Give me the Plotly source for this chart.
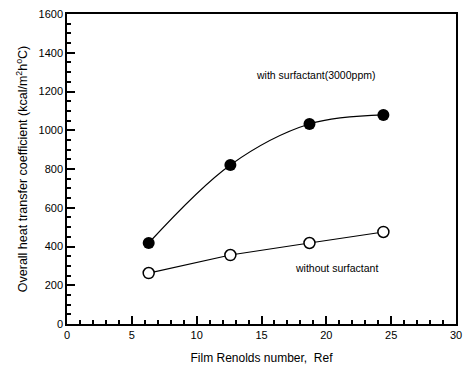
import plotly.graph_objects as go

re_with = [6.3, 12.6, 18.7, 24.4]
h_with = [418, 821, 1032, 1079]
re_without = [6.3, 12.6, 18.7, 24.4]
h_without = [263, 356, 418, 475]

fnt = "Liberation Sans, Arial, sans-serif"

fig = go.Figure()
fig.add_trace(go.Scatter(x=re_with, y=h_with, mode="lines+markers",
                         line=dict(color="black", width=1.2, shape="spline", smoothing=1.0),
                         marker=dict(symbol="circle", size=12, color="black"),
                         showlegend=False))
fig.add_trace(go.Scatter(x=re_without, y=h_without, mode="lines+markers",
                         line=dict(color="black", width=1.2),
                         marker=dict(symbol="circle", size=11, color="white",
                                     line=dict(color="black", width=1.5)),
                         showlegend=False))

fig.add_annotation(x=19.2, y=1285, text="with surfactant(3000ppm)", showarrow=False,
                   font=dict(family=fnt, size=10.5, color="black"))
fig.add_annotation(x=20.8, y=289, text="without surfactant", showarrow=False,
                   font=dict(family=fnt, size=10.5, color="black"))

axis_common = dict(showgrid=False, zeroline=False, showline=True, linecolor="black",
                   linewidth=1.5, mirror=True, ticks="inside", ticklen=8, tickwidth=2,
                   tickcolor="black", tickfont=dict(family=fnt, size=11, color="black"))

fig.update_xaxes(range=[0, 30], dtick=5, tick0=0,
                 minor=dict(dtick=1, ticks="inside", ticklen=4, tickwidth=1.5, tickcolor="black",
                            showgrid=False),
                 title=dict(text="Film Renolds number,  Ref", font=dict(family=fnt, size=12, color="black"),
                            standoff=14),
                 **axis_common)
fig.update_yaxes(range=[0, 1600], dtick=200, tick0=0,
                 minor=dict(dtick=50, ticks="inside", ticklen=4, tickwidth=1.5, tickcolor="black",
                            showgrid=False),
                 title=dict(text="Overall heat transfer coefficient (kcal/m<sup>2</sup>h<sup>o</sup>C)",
                            font=dict(family=fnt, size=12.5, color="black"), standoff=8),
                 **axis_common)

fig.update_layout(width=469, height=374, margin=dict(l=67, r=7, t=14, b=50),
                  plot_bgcolor="white", paper_bgcolor="white")

fig.write_html("out.html")
